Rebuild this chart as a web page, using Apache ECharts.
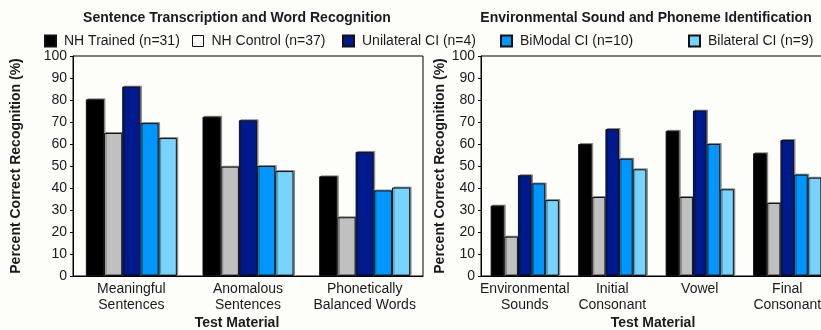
<!DOCTYPE html>
<html>
<head>
<meta charset="utf-8">
<script src="https://cdn.jsdelivr.net/npm/echarts@6/dist/echarts.min.js"></script>
<style>
  html, body { margin: 0; padding: 0; background: #fdfdf9; }
  #chart { width: 821px; height: 330px; }
</style>
</head>
<body>
<div id="chart"></div>
<script>
// Test materials for each panel
const leftCategories = ['Meaningful\nSentences', 'Anomalous\nSentences', 'Phonetically\nBalanced Words'];
const rightCategories = ['Environmental\nSounds', 'Initial\nConsonant', 'Vowel', 'Final\nConsonant'];

// Listener groups
const groupNames = ['NH Trained (n=31)', 'NH Control (n=37)', 'Unilateral CI (n=4)', 'BiModal CI (n=10)', 'Bilateral CI (n=9)'];
const groupColors = ['#000000', '#c0c0c0', '#001a8e', '#0096ff', '#78d4ff'];

// Percent correct: sentence transcription and word recognition
const leftNHTrained   = [80.3, 72.4, 45.3];
const leftNHControl   = [65.0, 49.7, 26.7];
const leftUnilateral  = [86.1, 70.8, 56.4];
const leftBiModal     = [69.5, 50.0, 38.9];
const leftBilateral   = [62.7, 47.7, 40.2];

// Percent correct: environmental sound and phoneme identification
const rightNHTrained  = [32.0, 60.0, 66.0, 55.8];
const rightNHControl  = [17.9, 35.9, 35.9, 33.2];
const rightUnilateral = [45.8, 66.8, 75.2, 61.8];
const rightBiModal    = [42.1, 53.3, 60.0, 46.1];
const rightBilateral  = [34.5, 48.5, 39.4, 44.7];

// Y-axis tick values
const yTicks = [0, 10, 20, 30, 40, 50, 60, 70, 80, 90, 100];

const leftData = [leftNHTrained, leftNHControl, leftUnilateral, leftBiModal, leftBilateral];
const rightData = [rightNHTrained, rightNHControl, rightUnilateral, rightBiModal, rightBilateral];

const FONT = 'Arial, "Liberation Sans", sans-serif';
const textColor = '#1a1a1a';

function makeSeries(dataSets, axisIndex) {
  return dataSets.map((vals, i) => ({
    name: groupNames[i],
    type: 'bar',
    xAxisIndex: axisIndex,
    yAxisIndex: axisIndex,
    data: vals,
    barGap: '0%',
    barCategoryGap: '22%',
    itemStyle: {
      color: groupColors[i],
      borderColor: '#111',
      borderWidth: 1,
      shadowColor: 'rgba(0,0,0,0.35)',
      shadowOffsetX: 1.5,
      shadowOffsetY: -1,
      shadowBlur: 0
    },
    emphasis: { disabled: true },
    animation: false
  }));
}

function makeXAxis(categories, gridIndex) {
  return {
    type: 'category',
    gridIndex: gridIndex,
    data: categories,
    axisLine: { show: true, lineStyle: { color: '#000', width: 1 } },
    axisTick: { show: false },
    axisLabel: {
      interval: 0,
      margin: 5,
      fontFamily: FONT,
      fontSize: 14,
      lineHeight: 16,
      color: textColor
    }
  };
}

function makeYAxis(gridIndex, nameGap) {
  return {
    type: 'value',
    gridIndex: gridIndex,
    min: yTicks[0],
    max: yTicks[yTicks.length - 1],
    interval: 10,
    name: 'Percent Correct Recognition (%)',
    nameLocation: 'middle',
    nameRotate: 90,
    nameGap: nameGap,
    nameTextStyle: { fontFamily: FONT, fontSize: 14, fontWeight: 'bold', color: textColor },
    axisLine: { show: true, lineStyle: { color: '#000', width: 1 } },
    axisTick: { show: true, length: 3, lineStyle: { color: '#000' } },
    splitLine: { show: false },
    axisLabel: { margin: 6, fontFamily: FONT, fontSize: 14, color: textColor }
  };
}

// One legend per entry so each sits at its own spot along the top row
const legendLefts = [39, 187, 337, 495, 683];
const legends = groupNames.map((name, i) => ({
  left: legendLefts[i],
  top: 29,
  itemWidth: 11,
  itemHeight: 11,
  icon: 'rect',
  selectedMode: false,
  data: [i === 1
    ? { name: name, itemStyle: { color: '#ffffff', borderColor: '#111', borderWidth: 1, shadowBlur: 0, shadowOffsetX: 0, shadowOffsetY: 0 } }
    : { name: name, itemStyle: { shadowBlur: 0, shadowOffsetX: 0, shadowOffsetY: 0 } }],
  textStyle: { fontFamily: FONT, fontSize: 14, color: textColor, padding: [0, 0, 0, 3] }
}));

const chart = echarts.init(document.getElementById('chart'), null, { renderer: 'canvas' });

chart.setOption({
  backgroundColor: '#fdfdf9',
  animation: false,
  legend: legends,
  grid: [
    { left: 73, top: 56, width: 350, height: 220, outerBoundsMode: 'none', containLabel: false, show: true, borderColor: '#000', borderWidth: 1, backgroundColor: 'transparent' },
    { left: 481, top: 56, width: 350, height: 220, outerBoundsMode: 'none', containLabel: false, show: true, borderColor: '#000', borderWidth: 1, backgroundColor: 'transparent' }
  ],
  xAxis: [makeXAxis(leftCategories, 0), makeXAxis(rightCategories, 1)],
  yAxis: [makeYAxis(0, 50), makeYAxis(1, 34)],
  series: makeSeries(leftData, 0).concat(makeSeries(rightData, 1)),
  graphic: [
    { type: 'text', x: 237, y: 18, style: { text: 'Sentence Transcription and Word Recognition', x: 0, y: 0, textAlign: 'center', textVerticalAlign: 'middle', font: 'bold 14px ' + FONT, fill: textColor } },
    { type: 'text', x: 646, y: 18, style: { text: 'Environmental Sound and Phoneme Identification', x: 0, y: 0, textAlign: 'center', textVerticalAlign: 'middle', font: 'bold 14px ' + FONT, fill: textColor } },
    { type: 'text', x: 237, y: 323, style: { text: 'Test Material', x: 0, y: 0, textAlign: 'center', textVerticalAlign: 'middle', font: 'bold 14px ' + FONT, fill: textColor } },
    { type: 'text', x: 653, y: 323, style: { text: 'Test Material', x: 0, y: 0, textAlign: 'center', textVerticalAlign: 'middle', font: 'bold 14px ' + FONT, fill: textColor } }
  ]
});
</script>
</body>
</html>
